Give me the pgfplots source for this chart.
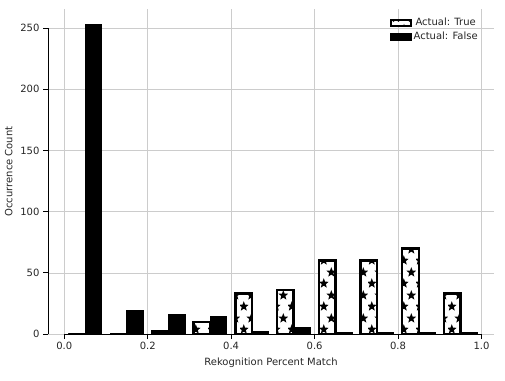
\documentclass[border=0pt]{standalone}
\usepackage{fontspec}
\setmainfont{DejaVu Sans}
\usepackage{pgfplots}
\pgfplotsset{compat=1.18}
\usetikzlibrary{patterns.meta}
\definecolor{txt}{gray}{0.15}
\definecolor{gridc}{gray}{0.8}
\tikzdeclarepattern{
  name=mystars,
  type=uncolored,
  bounding box={(0pt,0pt) and (16pt,23pt)},
  tile size={(16pt,23pt)},
  code={
    \foreach \cx/\cy in {4/5.75,12/17.25}{
      \fill[shift={(\cx pt,\cy pt)}] (90:5.4pt) -- (126:2.3pt) -- (162:5.4pt) -- (198:2.3pt) -- (234:5.4pt) -- (270:2.3pt) -- (306:5.4pt) -- (342:2.3pt) -- (18:5.4pt) -- (54:2.3pt) -- cycle;
    }
  }
}
\begin{document}
\fontsize{10pt}{12pt}\selectfont
\begin{tikzpicture}
\useasboundingbox (-48pt,-46pt) rectangle (457pt,334pt);
\begin{axis}[
  at={(0pt,0pt)}, anchor=south west,
  scale only axis, width=446pt, height=325pt,
  xmin=-0.039, xmax=1.03, ymin=0, ymax=265.6,
  axis line style={draw=none},
  grid=major, major grid style={gridc, line width=0.6pt},
  xtick={0,0.2,...,1.0}, ytick={0,50,...,250},
  xticklabel style={/pgf/number format/.cd, fixed, fixed zerofill, precision=1},
  /pgf/number format/assume math mode=true,
  tick align=outside, major tick length=5pt,
  tick style={black, line width=0.9pt},
  xtick pos=bottom, ytick pos=left,
  ticklabel style={font=\fontsize{10pt}{12pt}\selectfont, text=txt},
  xlabel={Rekognition Percent Match}, ylabel={Occurrence Count},
  label style={font=\fontsize{10pt}{12pt}\selectfont, text=txt},
  xlabel style={yshift=-1pt}, ylabel style={yshift=1pt},
  ybar, bar width=0.04, bar shift=0pt,
  legend style={at={(0.975,0.985)}, anchor=north east, draw=none, fill=none, font=\fontsize{10pt}{12pt}\selectfont, text=txt, row sep=1pt},
  legend image code/.code={\draw[#1, line width=2pt] (0pt,-3pt) rectangle (20pt,3pt);},
  clip=false,
]
\addplot[draw=black, fill=white, line width=2.5pt, postaction={pattern=mystars}] coordinates {
  (0.03,0) (0.13,0) (0.23,2) (0.33,10) (0.43,33) (0.53,36) (0.63,60) (0.73,60) (0.83,70) (0.93,33)
};
\addplot[draw=black, fill=black, line width=1pt] coordinates {
  (0.07,253) (0.17,19) (0.27,16) (0.37,14) (0.47,2) (0.57,5) (0.67,1) (0.77,1) (0.87,1) (0.97,1)
};
\legend{Actual: True, Actual: False}
\draw[black, line width=0.9pt] (axis cs:-0.039,0) -- (axis cs:-0.039,250);
\draw[black, line width=0.9pt] (axis cs:0,0) -- (axis cs:1,0);
\end{axis}
\end{tikzpicture}
\end{document}
